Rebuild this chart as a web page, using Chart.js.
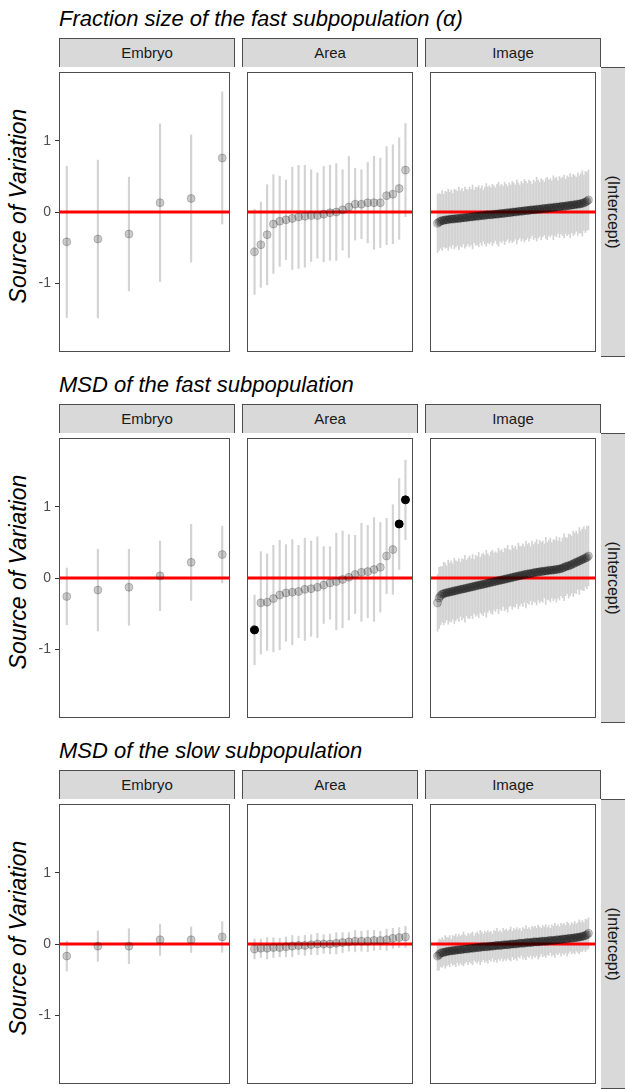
<!DOCTYPE html>
<html>
<head>
<meta charset="utf-8">
<script src="https://cdn.jsdelivr.net/npm/chart.js@4/dist/chart.umd.min.js"></script>
<style>
  html, body { margin: 0; padding: 0; background: #ffffff; overflow: hidden; }
  #fig { position: relative; width: 625px; height: 1089px; overflow: hidden;
         font-family: "Liberation Sans", Arial, sans-serif; }
  .title { position: absolute; left: 59px; font-size: 22px; line-height: 22px;
           font-style: italic; color: #000; white-space: nowrap; }
  .ylab { position: absolute; left: 18px; font-size: 23px; line-height: 23px; font-style: italic;
          color: #000; white-space: nowrap; transform: translate(-50%, -50%) rotate(-90deg); }
  .strip { position: absolute; box-sizing: border-box; height: 29px; background: #d9d9d9;
           border: 1px solid #4d4d4d; border-bottom: none; font-size: 15px; line-height: 28px;
           color: #1a1a1a; text-align: center; }
  .rstrip { position: absolute; box-sizing: border-box; width: 40px; background: #d9d9d9;
            border: 1px solid #4d4d4d; border-left: none; }
  .rtext { position: absolute; font-size: 16px; line-height: 16px; color: #1a1a1a; white-space: nowrap;
           transform: translate(-50%, -50%) rotate(90deg); }
  canvas { position: absolute; }
</style>
</head>
<body>
<div id="fig"></div>
<script>
// ---- labels ----
const facetLabels = ['Embryo', 'Area', 'Image'];
const rowTitles = [
  'Fraction size of the fast subpopulation (\u03b1)',
  'MSD of the fast subpopulation',
  'MSD of the slow subpopulation'
];
const termLabel = '(Intercept)';
const yAxisTitle = 'Source of Variation';
const yTicks = [-1, 0, 1];
const yRange = [-1.97, 1.97];
const refValue = 0;

// ---- fraction of the fast subpopulation: conditional modes and 95% half-widths ----
const alphaEmbryoEst = [-0.42, -0.38, -0.31, 0.13, 0.19, 0.76];
const alphaEmbryoCI  = [1.065, 1.11, 0.80, 1.11, 0.895, 0.93];

const alphaAreaEst = [-0.56, -0.46, -0.32, -0.17, -0.13, -0.11, -0.09, -0.07, -0.06, -0.05,
                      -0.05, -0.03, -0.01, 0.00, 0.03, 0.07, 0.11, 0.11, 0.13, 0.13,
                      0.13, 0.23, 0.25, 0.33, 0.59];
const alphaAreaCI  = [0.60, 0.60, 0.705, 0.695, 0.635, 0.56, 0.72, 0.725, 0.715, 0.645,
                      0.60, 0.67, 0.67, 0.68, 0.565, 0.71, 0.505, 0.485, 0.565, 0.655,
                      0.63, 0.69, 0.695, 0.715, 0.655];

const alphaImageEst = [
  -0.16,-0.14,-0.13,-0.12,-0.12,-0.11,-0.11,-0.11,-0.10,-0.10,
  -0.10,-0.10,-0.09,-0.09,-0.09,-0.09,-0.08,-0.08,-0.08,-0.08,
  -0.07,-0.07,-0.07,-0.07,-0.06,-0.06,-0.06,-0.06,-0.05,-0.05,
  -0.05,-0.05,-0.04,-0.04,-0.04,-0.04,-0.04,-0.03,-0.03,-0.03,
  -0.03,-0.02,-0.02,-0.02,-0.02,-0.01,-0.01,-0.01,-0.01,0.00,
  0.00,0.00,0.00,0.01,0.01,0.01,0.01,0.02,0.02,0.02,
  0.02,0.03,0.03,0.03,0.03,0.04,0.04,0.04,0.04,0.05,
  0.05,0.05,0.05,0.06,0.06,0.06,0.06,0.07,0.07,0.07,
  0.07,0.08,0.08,0.08,0.08,0.09,0.09,0.09,0.10,0.10,
  0.10,0.11,0.11,0.11,0.12,0.12,0.13,0.14,0.15,0.17];
const alphaImageCI = [
  0.41,0.40,0.38,0.42,0.37,0.40,0.39,0.43,0.38,0.41,
  0.36,0.42,0.40,0.38,0.44,0.39,0.41,0.37,0.43,0.40,
  0.38,0.42,0.39,0.45,0.37,0.41,0.40,0.43,0.38,0.42,
  0.36,0.40,0.44,0.39,0.41,0.38,0.43,0.40,0.37,0.42,
  0.45,0.39,0.41,0.38,0.44,0.40,0.37,0.42,0.39,0.43,
  0.41,0.38,0.45,0.40,0.37,0.42,0.39,0.44,0.41,0.38,
  0.43,0.40,0.36,0.42,0.39,0.45,0.41,0.38,0.43,0.40,
  0.37,0.42,0.44,0.39,0.41,0.38,0.45,0.40,0.42,0.37,
  0.43,0.39,0.41,0.44,0.38,0.42,0.40,0.45,0.39,0.43,
  0.41,0.38,0.44,0.40,0.42,0.46,0.39,0.43,0.41,0.42];

// ---- MSD of the fast subpopulation ----
const fastEmbryoEst = [-0.26, -0.17, -0.13, 0.03, 0.22, 0.33];
const fastEmbryoCI  = [0.40, 0.575, 0.535, 0.49, 0.535, 0.40];

const fastAreaEst = [-0.73, -0.35, -0.34, -0.29, -0.24, -0.21, -0.20, -0.19, -0.16, -0.15,
                     -0.13, -0.10, -0.07, -0.05, -0.02, 0.01, 0.05, 0.08, 0.09, 0.12,
                     0.15, 0.31, 0.40, 0.76, 1.10];
const fastAreaCI  = [0.49, 0.72, 0.68, 0.75, 0.77, 0.68, 0.74, 0.65, 0.72, 0.67,
                     0.71, 0.54, 0.51, 0.68, 0.68, 0.60, 0.55, 0.69, 0.65, 0.73,
                     0.63, 0.53, 0.63, 0.64, 0.56];

const fastImageEst = [
  -0.35,-0.28,-0.25,-0.23,-0.22,-0.21,-0.21,-0.20,-0.20,-0.19,
  -0.19,-0.18,-0.18,-0.17,-0.17,-0.16,-0.16,-0.15,-0.15,-0.14,
  -0.14,-0.13,-0.13,-0.12,-0.12,-0.11,-0.11,-0.10,-0.10,-0.09,
  -0.09,-0.08,-0.08,-0.07,-0.07,-0.06,-0.06,-0.05,-0.05,-0.04,
  -0.04,-0.03,-0.03,-0.02,-0.02,-0.01,-0.01,0.00,0.00,0.01,
  0.01,0.02,0.02,0.03,0.03,0.04,0.04,0.05,0.05,0.06,
  0.06,0.06,0.07,0.07,0.08,0.08,0.08,0.09,0.09,0.09,
  0.10,0.10,0.10,0.11,0.11,0.11,0.11,0.12,0.12,0.12,
  0.13,0.13,0.14,0.15,0.16,0.17,0.17,0.18,0.19,0.20,
  0.21,0.22,0.23,0.24,0.25,0.26,0.27,0.28,0.29,0.31];
const fastImageCI = [
  0.40,0.43,0.41,0.39,0.44,0.42,0.38,0.45,0.41,0.43,
  0.39,0.46,0.42,0.40,0.44,0.38,0.43,0.41,0.47,0.39,
  0.42,0.44,0.40,0.45,0.38,0.43,0.41,0.46,0.39,0.42,
  0.44,0.40,0.47,0.41,0.38,0.43,0.45,0.40,0.42,0.39,
  0.46,0.41,0.43,0.38,0.44,0.42,0.47,0.40,0.39,0.45,
  0.41,0.43,0.38,0.46,0.42,0.40,0.44,0.39,0.47,0.41,
  0.43,0.38,0.45,0.40,0.42,0.46,0.39,0.44,0.41,0.43,
  0.38,0.47,0.40,0.42,0.45,0.39,0.43,0.41,0.46,0.40,
  0.44,0.38,0.42,0.47,0.41,0.39,0.45,0.43,0.40,0.46,
  0.42,0.44,0.39,0.47,0.41,0.43,0.45,0.40,0.44,0.42];

// ---- MSD of the slow subpopulation ----
const slowEmbryoEst = [-0.17, -0.03, -0.03, 0.06, 0.06, 0.10];
const slowEmbryoCI  = [0.21, 0.215, 0.245, 0.22, 0.18, 0.215];

const slowAreaEst = [-0.07, -0.06, -0.06, -0.05, -0.05, -0.04, -0.03, -0.02, -0.02, -0.01,
                     0.00, 0.00, 0.00, 0.01, 0.02, 0.03, 0.04, 0.04, 0.04, 0.05,
                     0.05, 0.06, 0.08, 0.09, 0.10];
const slowAreaCI  = [0.14, 0.13, 0.15, 0.14, 0.13, 0.14, 0.15, 0.13, 0.14, 0.14,
                     0.15, 0.13, 0.14, 0.15, 0.14, 0.13, 0.15, 0.14, 0.15, 0.14,
                     0.13, 0.15, 0.14, 0.14, 0.15];

const slowImageEst = [
  -0.17,-0.15,-0.13,-0.12,-0.12,-0.11,-0.11,-0.10,-0.10,-0.10,
  -0.09,-0.09,-0.09,-0.08,-0.08,-0.08,-0.08,-0.07,-0.07,-0.07,
  -0.07,-0.06,-0.06,-0.06,-0.06,-0.05,-0.05,-0.05,-0.05,-0.04,
  -0.04,-0.04,-0.04,-0.04,-0.03,-0.03,-0.03,-0.03,-0.02,-0.02,
  -0.02,-0.02,-0.02,-0.01,-0.01,-0.01,-0.01,-0.01,0.00,0.00,
  0.00,0.00,0.00,0.01,0.01,0.01,0.01,0.01,0.02,0.02,
  0.02,0.02,0.02,0.03,0.03,0.03,0.03,0.03,0.04,0.04,
  0.04,0.04,0.04,0.05,0.05,0.05,0.05,0.05,0.06,0.06,
  0.06,0.06,0.07,0.07,0.07,0.07,0.08,0.08,0.08,0.08,
  0.09,0.09,0.09,0.10,0.10,0.11,0.11,0.12,0.13,0.15];
const slowImageCI = [
  0.20,0.22,0.19,0.21,0.18,0.23,0.20,0.19,0.22,0.17,
  0.21,0.20,0.23,0.18,0.22,0.19,0.21,0.24,0.20,0.18,
  0.22,0.19,0.21,0.23,0.17,0.20,0.22,0.19,0.24,0.21,
  0.18,0.22,0.20,0.23,0.19,0.21,0.17,0.22,0.20,0.24,
  0.19,0.21,0.18,0.23,0.20,0.22,0.19,0.21,0.24,0.18,
  0.22,0.20,0.23,0.19,0.21,0.17,0.22,0.20,0.24,0.19,
  0.21,0.18,0.23,0.20,0.22,0.19,0.24,0.21,0.18,0.22,
  0.20,0.23,0.19,0.21,0.17,0.22,0.20,0.24,0.19,0.21,
  0.18,0.23,0.20,0.22,0.19,0.24,0.21,0.18,0.22,0.20,
  0.23,0.19,0.21,0.24,0.20,0.22,0.19,0.23,0.21,0.22];

const rows = [
  [[alphaEmbryoEst, alphaEmbryoCI], [alphaAreaEst, alphaAreaCI], [alphaImageEst, alphaImageCI]],
  [[fastEmbryoEst, fastEmbryoCI], [fastAreaEst, fastAreaCI], [fastImageEst, fastImageCI]],
  [[slowEmbryoEst, slowEmbryoCI], [slowAreaEst, slowAreaCI], [slowImageEst, slowImageCI]]
];

// ---- layout ----
const FONT = '"Liberation Sans", Arial, sans-serif';
const panelLeft = [59, 242, 425];
const panelWidth = 176;
const panelHeight = 290;
const rowTop = [67, 433, 799];
const stripHeight = 29;
const axisWidth = 59;

const fig = document.getElementById('fig');

function addDiv(cls, text, css) {
  const d = document.createElement('div');
  d.className = cls;
  if (text) d.textContent = text;
  Object.assign(d.style, css);
  fig.appendChild(d);
  return d;
}

// frame around each panel, drawn on top of the marks
const panelFrame = {
  id: 'panelFrame',
  afterDraw(chart) {
    const { ctx, chartArea: a } = chart;
    ctx.save();
    ctx.strokeStyle = '#4d4d4d';
    ctx.lineWidth = 1;
    ctx.strokeRect(a.left + 0.5, a.top + 0.5, a.width - 1, a.height - 1);
    ctx.restore();
  }
};

function makePanel(r, c, est, ci) {
  const n = est.length;
  const pad = 0.05 * (n - 1);
  const xMin = 1 - pad, xMax = n + pad;
  const withAxis = c === 0;
  const dense = n > 50;
  const w = panelWidth + (withAxis ? axisWidth : 0);
  const canvas = document.createElement('canvas');
  canvas.width = w;
  canvas.height = panelHeight;
  canvas.style.left = (panelLeft[c] - (withAxis ? axisWidth : 0)) + 'px';
  canvas.style.top = rowTop[r] + 'px';
  canvas.style.width = w + 'px';
  canvas.style.height = panelHeight + 'px';
  fig.appendChild(canvas);

  // intervals that do not cover zero are drawn in solid black
  const flagged = est.map((e, i) => e - ci[i] > refValue || e + ci[i] < refValue);

  const yScale = {
    type: 'linear', min: yRange[0], max: yRange[1], display: withAxis,
    grid: { drawOnChartArea: false, drawTicks: true, tickLength: 4, color: '#333333', lineWidth: 1 },
    border: { display: false },
    ticks: { color: '#4d4d4d', padding: 4, font: { family: FONT, size: 14 } },
    afterBuildTicks: s => { s.ticks = yTicks.map(v => ({ value: v })); }
  };
  if (withAxis) {
    yScale.afterFit = s => { s.width = axisWidth; s.paddingTop = 0; s.paddingBottom = 0; };
  }

  new Chart(canvas, {
    type: 'bar',
    data: {
      datasets: [
        {
          type: 'scatter', order: 0,
          data: est.map((e, i) => ({ x: i + 1, y: e })),
          pointRadius: 4, pointHoverRadius: 4,
          pointBackgroundColor: flagged.map(f => f ? '#000000' : 'rgba(0,0,0,0.2)'),
          pointBorderColor: flagged.map(f => f ? '#000000' : 'rgba(0,0,0,0.2)'),
          pointBorderWidth: 1
        },
        {
          type: 'line', order: 1,
          data: [{ x: xMin, y: refValue }, { x: xMax, y: refValue }],
          borderColor: '#ff0000', borderWidth: 3, pointRadius: 0, fill: false
        },
        {
          type: 'bar', order: 2,
          data: est.map((e, i) => ({ x: i + 1, y: [e - ci[i], e + ci[i]] })),
          backgroundColor: '#d3d3d3', borderWidth: 0, barThickness: dense ? 1 : 1.5
        }
      ]
    },
    options: {
      responsive: false, animation: false, devicePixelRatio: 1, events: [],
      layout: { padding: 0 },
      plugins: { legend: { display: false }, tooltip: { enabled: false } },
      scales: {
        x: { type: 'linear', min: xMin, max: xMax, offset: false, display: false },
        y: yScale
      }
    },
    plugins: [panelFrame]
  });
}

rows.forEach((row, r) => {
  const top = rowTop[r];
  addDiv('title', rowTitles[r], { top: (top - 59) + 'px' });
  addDiv('ylab', yAxisTitle, { top: (top + 139) + 'px' });
  facetLabels.forEach((lab, c) => {
    addDiv('strip', lab, { left: panelLeft[c] + 'px', top: (top - stripHeight) + 'px', width: panelWidth + 'px' });
  });
  addDiv('rstrip', '', { left: (panelLeft[2] + panelWidth) + 'px', top: top + 'px', height: panelHeight + 'px' });
  addDiv('rtext', termLabel, { left: '613px', top: (top + panelHeight / 2) + 'px' });
  row.forEach(([est, ci], c) => makePanel(r, c, est, ci));
});
</script>
</body>
</html>
